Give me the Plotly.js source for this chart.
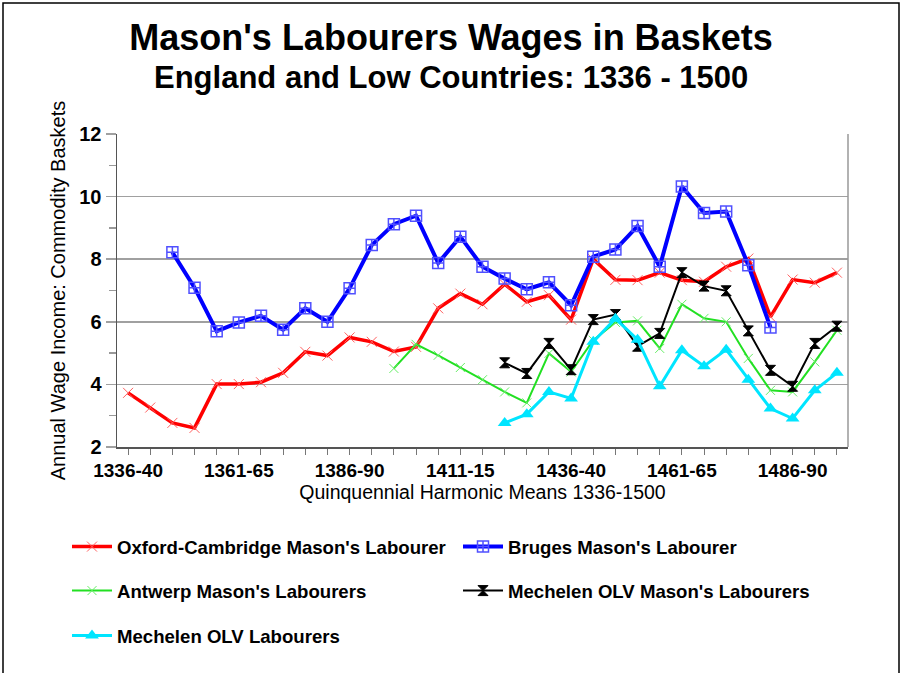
<!DOCTYPE html>
<html>
<head>
<meta charset="utf-8">
<script src="https://cdn.plot.ly/plotly-3.0.1.min.js"></script>
<style>html,body{margin:0;padding:0;background:#fff;} #chart{width:903px;height:673px;}</style>
</head>
<body>
<div id="chart"></div>
<script>
// ---- data ----
const periods = ["1336-40","1341-45","1346-50","1351-55","1356-60","1361-65","1366-70","1371-75","1376-80","1381-85",
  "1386-90","1391-95","1396-1400","1401-05","1406-10","1411-15","1416-20","1421-25","1426-30","1431-35",
  "1436-40","1441-45","1446-50","1451-55","1456-60","1461-65","1466-70","1471-75","1476-80","1481-85",
  "1486-90","1491-95","1496-1500"];
const tickLabels = ["1336-40","1361-65","1386-90","1411-15","1436-40","1461-65","1486-90"];

const oxfordCambridge = [3.73,3.26,2.77,2.61,4.01,4.01,4.07,4.37,5.04,4.92,5.50,5.36,5.05,5.20,6.43,6.90,6.56,7.20,6.64,6.85,
  6.07,8.00,7.34,7.33,7.57,7.33,7.28,7.76,8.02,6.16,7.35,7.25,7.57];
const bruges = [null,null,8.22,7.09,5.70,5.98,6.19,5.75,6.43,6.00,7.07,8.45,9.12,9.39,7.88,8.72,7.76,7.38,7.04,7.26,
  6.53,8.08,8.31,9.06,7.76,10.32,9.48,9.52,7.81,5.82,null,null,null];
const antwerp = [null,null,null,null,null,null,null,null,null,null,null,null,4.51,5.28,4.93,4.54,4.15,3.76,3.41,4.99,
  4.40,5.41,5.98,6.03,5.15,6.56,6.11,6.00,4.83,3.81,3.76,4.72,5.73];
const mechelenMason = [null,null,null,null,null,null,null,null,null,null,null,null,null,null,null,null,null,4.69,4.35,5.31,
  4.47,6.07,6.23,5.22,5.63,7.57,7.14,6.99,5.71,4.45,3.94,5.31,5.86];
const mechelenLab = [null,null,null,null,null,null,null,null,null,null,null,null,null,null,null,null,null,2.77,3.05,3.76,
  3.55,5.36,6.10,5.43,3.94,5.09,4.58,5.11,4.15,3.23,2.91,3.81,4.37];

// ---- layout helpers ----
const W = 903, H = 673, ML = 117, MR = 55, MT = 134, MB = 226;
const PW = W - ML - MR, PH = H - MT - MB;
const px = v => (v - ML) / PW;
const py = v => (H - MB - v) / PH;
const FONT = "Liberation Sans, Arial, sans-serif";

const traces = [
  {name:"Oxford-Cambridge Mason's Labourer", y: oxfordCambridge, legend:'legend',
   line:{color:'#ff0000', width:3.5},
   marker:{symbol:'x-thin-open', size:10, color:'#ff6060', line:{color:'#ff6060', width:1}}},
  {name:"Bruges Mason's Labourer", y: bruges, legend:'legend',
   line:{color:'#0000ff', width:4},
   marker:{symbol:'square-cross-open', size:11, color:'#5050ff', line:{color:'#5050ff', width:1.5}}},
  {name:"Antwerp Mason's Labourers", y: antwerp, legend:'legend2',
   line:{color:'#22e022', width:2},
   marker:{symbol:'x-thin-open', size:9, color:'#66ee66', line:{color:'#66ee66', width:1}}},
  {name:"Mechelen OLV Mason's Labourers", y: mechelenMason, legend:'legend2',
   line:{color:'#000000', width:2},
   marker:{symbol:'hourglass', size:10, color:'#000000', line:{color:'#000000', width:1}}},
  {name:"Mechelen OLV Labourers", y: mechelenLab, legend:'legend3',
   line:{color:'#00e5ff', width:3},
   marker:{symbol:'triangle-up', size:12, color:'#00e5ff', line:{width:0}}}
].map(t => Object.assign({type:'scatter', mode:'lines+markers', x: periods, connectgaps:false, hoverinfo:'skip'}, t));

const legendBase = {orientation:'h', xanchor:'left', yanchor:'middle', x: px(67),
  font:{family:FONT, size:18.6, color:'#000', weight:'bold'}, bgcolor:'rgba(0,0,0,0)',
  entrywidth:336, entrywidthmode:'pixels', itemwidth:40, traceorder:'normal'};

const layout = {
  width: W, height: H,
  margin:{l:ML, r:MR, t:MT, b:MB},
  paper_bgcolor:'#fff', plot_bgcolor:'#fff',
  font:{family:FONT, color:'#000'},
  title:{text:"<b>Mason's Labourers Wages in Baskets</b>", font:{family:FONT, size:36, color:'#000'},
    x:451/W, xref:'container', xanchor:'center', y:1 - 37/H, yref:'container', yanchor:'middle'},
  annotations:[{text:"<b>England and Low Countries: 1336 - 1500</b>", xref:'paper', yref:'paper',
    x:px(451), y:py(78), xanchor:'center', yanchor:'middle', showarrow:false,
    font:{family:FONT, size:31, color:'#000'}}],
  xaxis:{type:'category', range:[-0.5, periods.length - 0.5], showgrid:false, zeroline:false,
    showline:true, linecolor:'#555', linewidth:1.5,
    tickmode:'array', tickvals: periods, ticktext: periods.map(p => tickLabels.includes(p) ? p : ''),
    ticks:'outside', ticklen:6, tickcolor:'#777', tickwidth:1,
    tickfont:{family:FONT, size:19, color:'#000', weight:'bold'},
    title:{text:"Quinquennial Harmonic Means 1336-1500", font:{family:FONT, size:19.5, color:'#000'}, standoff:4}},
  yaxis:{range:[2,12], dtick:2, tick0:2, showgrid:true, gridcolor:'#a0a0a0', gridwidth:1.5, zeroline:false,
    showline:true, linecolor:'#555', linewidth:1.5,
    ticks:'outside', ticklen:10, tickcolor:'#a0a0a0', tickwidth:1.5,
    minor:{dtick:1, tick0:1, ticks:'outside', ticklen:7, tickcolor:'#999', showgrid:false},
    tickfont:{family:FONT, size:20, color:'#000', weight:'bold'},
    title:{text:"Annual Wage Income: Commodity Baskets", font:{family:FONT, size:20, color:'#000'}, standoff:8}},
  legend: Object.assign({}, legendBase, {y: py(547)}),
  legend2: Object.assign({}, legendBase, {y: py(591)}),
  legend3: Object.assign({}, legendBase, {y: py(636)}),
  shapes:[
    {type:'line', xref:'paper', yref:'paper', x0:1, x1:1, y0:0, y1:1, line:{color:'#999', width:1.5}},
    {type:'rect', xref:'paper', yref:'paper', x0:px(3), x1:px(899), y0:py(3), y1:py(690), line:{color:'#000', width:1.5}, layer:'below'}
  ],
  showlegend:true
};

Plotly.newPlot('chart', traces, layout, {displayModeBar:false, staticPlot:true});
</script>
</body>
</html>
